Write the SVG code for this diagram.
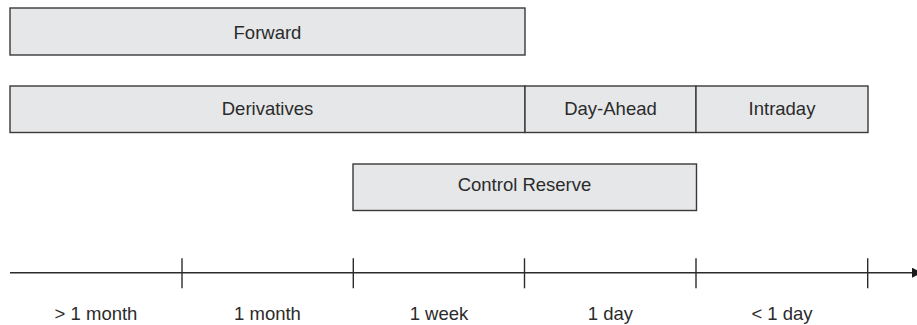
<svg xmlns="http://www.w3.org/2000/svg" width="917" height="325" viewBox="0 0 917 325">
  <style>
    .box { fill: #e6e7e8; stroke: #3a3a3a; stroke-width: 1.4; }
    .lbl { font-family: "Liberation Sans", Arial, sans-serif; font-size: 18.5px; fill: #2b2b2b; text-anchor: middle; }
    .axis { stroke: #2b2b2b; stroke-width: 1.4; fill: none; }
  </style>
  <defs>
    <marker id="arrow" viewBox="0 0 10 10" refX="10" refY="5" markerWidth="11" markerHeight="10" markerUnits="userSpaceOnUse" orient="auto">
      <path d="M0,0 L10,5 L0,10 Z" fill="#1a1a1a"/>
    </marker>
  </defs>

  <g id="forward">
    <rect class="box" x="10" y="8" width="515" height="47"/>
    <text class="lbl" x="267.5" y="39">Forward</text>
  </g>

  <g id="derivatives">
    <rect class="box" x="10" y="86" width="515" height="46.5"/>
    <text class="lbl" x="267.5" y="115">Derivatives</text>
  </g>

  <g id="day-ahead">
    <rect class="box" x="525" y="86" width="171" height="46.5"/>
    <text class="lbl" x="610.5" y="115">Day-Ahead</text>
  </g>

  <g id="intraday">
    <rect class="box" x="696" y="86" width="172" height="46.5"/>
    <text class="lbl" x="782" y="115">Intraday</text>
  </g>

  <g id="control-reserve">
    <rect class="box" x="353" y="164" width="343.5" height="46.5"/>
    <text class="lbl" x="524.5" y="191">Control Reserve</text>
  </g>

  <g id="timeline">
    <line class="axis" x1="10" y1="272.7" x2="922" y2="272.7" marker-end="url(#arrow)"/>
    <line class="axis" x1="182" y1="258.3" x2="182" y2="288.3"/>
    <line class="axis" x1="353.3" y1="258.3" x2="353.3" y2="288.3"/>
    <line class="axis" x1="524.5" y1="258.3" x2="524.5" y2="288.3"/>
    <line class="axis" x1="696" y1="258.3" x2="696" y2="288.3"/>
    <line class="axis" x1="867.7" y1="258.3" x2="867.7" y2="288.3"/>
  </g>

  <g id="timeline-labels">
    <text class="lbl" x="96" y="320">&gt; 1 month</text>
    <text class="lbl" x="267.5" y="320">1 month</text>
    <text class="lbl" x="439" y="320">1 week</text>
    <text class="lbl" x="610.5" y="320">1 day</text>
    <text class="lbl" x="782" y="320">&lt; 1 day</text>
  </g>
</svg>
